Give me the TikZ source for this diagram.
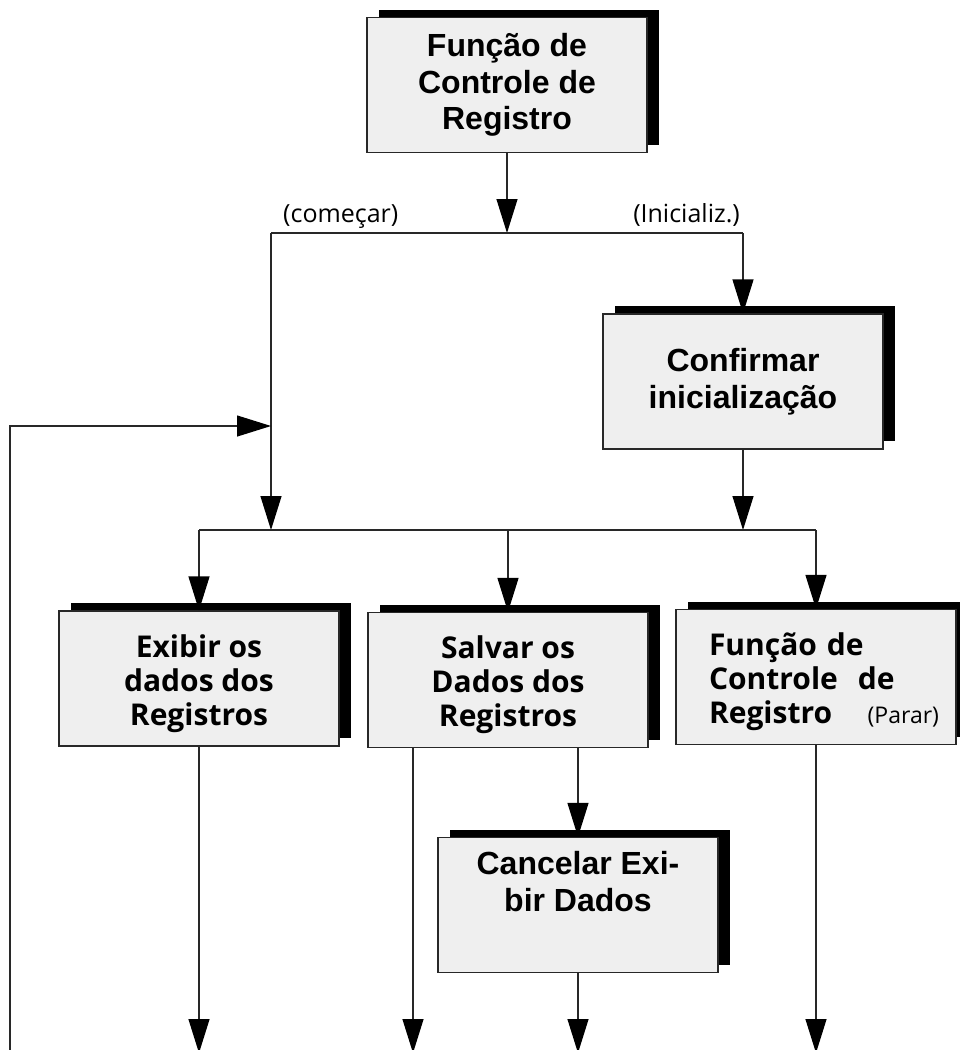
\documentclass[tikz,border=0pt]{standalone}
\usepackage{fontspec}
\setmainfont{Liberation Sans}
\newfontfamily\hum{Open Sans}
\usetikzlibrary{arrows.meta,shadows,calc}
\definecolor{boxgray}{RGB}{239,239,239}
\definecolor{linegray}{RGB}{40,40,40}
\tikzset{
  box/.style={draw=linegray, line width=1.2pt, fill=boxgray,
    minimum width=280pt, minimum height=135pt, inner sep=0pt, align=center,
    general shadow={fill=black, shadow xshift=12pt, shadow yshift=8pt}},
  hv/.style={font=\fontsize{32}{36.5}\selectfont\bfseries},
  hu/.style={font=\hum\fontsize{30}{34}\selectfont\bfseries},
  lab/.style={font=\hum\fontsize{25}{28}\selectfont, inner sep=0pt},
  ln/.style={draw=linegray, line width=1.2pt},
  arr/.style={ln, -{Triangle[length=34pt,width=21pt,black]}}
}
\newcommand{\toppad}{\rule{0pt}{33pt}}
\begin{document}
\begin{tikzpicture}[x=1pt,y=-1pt]
\useasboundingbox (0,0) rectangle (959,1050);

% boxes
\node[box,hv] (top) at (507,85) {Função de\\Controle de\\Registro};
\node[box,hv] (conf) at (743,381.5) {Confirmar\\inicialização};
\node[box,hu] (exib) at (199,678.5) {\toppad Exibir os\\dados dos\\Registros};
\node[box,hu] (salv) at (508,680) {\toppad Salvar os\\Dados dos\\Registros};
\node[box,hu,text width=246pt,align=left] (parar) at (816,677)
  {\hspace*{16pt}\toppad Função de\\\hspace*{16pt}Controle\ \ de\\\hspace*{16pt}Registro\hfill{\mdseries\fontsize{23}{26}\selectfont(Parar)}};
\node[box,hv] (canc) at (578,905) {Cancelar Exi-\\bir Dados\\\strut};

% labels
\node[lab, anchor=base west] (lcom) at (283,222) {(começar)};
\node[lab, anchor=base east] (lini) at (740,222) {(Inicializ.)};

% junction points
\coordinate (j1) at (507,233);
\coordinate (j1L) at (271,233);
\coordinate (j1R) at (743,233);
\coordinate (j2) at (271,530);
\coordinate (j2c) at (743,530);
\coordinate (j2L) at (199,530);
\coordinate (j2M) at (508,530);
\coordinate (j2R) at (816,530);
\coordinate (fb0) at (10,1052);
\coordinate (fb1) at (10,426);
\coordinate (fbT) at (271,426);
\coordinate (eA) at (199,1053);
\coordinate (eB) at (413,1053);
\coordinate (eC) at (578,1053);
\coordinate (eP) at (816,1053);

% connectors
\draw[arr] (top.south) -- (j1);
\draw[ln] (j1L) -- (j1R);
\draw[arr] (j1L) -- (j2);
\draw[arr] (j1R) -- (conf.north);
\draw[arr] (conf.south) -- (j2c);
\draw[ln] (j2L) -- (j2R);
\draw[arr] (j2L) -- (exib.north);
\draw[arr] (j2M) -- (salv.north);
\draw[arr] (j2R) -- (parar.north);
\draw[arr] (exib.south) -- (eA);
\draw[arr] (salv.south -| eB) -- (eB);
\draw[arr] (salv.south -| canc.north) -- (canc.north);
\draw[arr] (canc.south) -- (eC);
\draw[arr] (parar.south) -- (eP);
\draw[arr] (fb0) -- (fb1) -- (fbT);
\end{tikzpicture}
\end{document}
